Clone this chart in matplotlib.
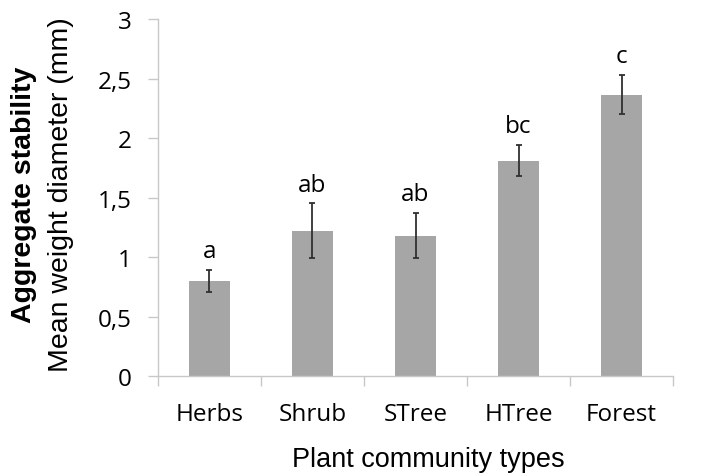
import numpy as np
import matplotlib.pyplot as plt
from matplotlib.ticker import FuncFormatter, FixedLocator

# Mean weight diameter per plant community, with standard errors and letter groups
communities = ["Herbs", "Shrub", "STree", "HTree", "Forest"]
mwd = [0.80, 1.22, 1.18, 1.81, 2.365]
mwd_err = [0.09, 0.23, 0.19, 0.13, 0.165]
groups = ["a", "ab", "ab", "bc", "c"]

tick_font = "Open Sans"
label_font = "Liberation Sans"

fig = plt.figure(figsize=(7.04, 4.77), dpi=100)
ax = fig.add_axes([0.2244, 0.2096, 0.7316, 0.7484])

x = np.arange(len(communities))
ax.bar(x, mwd, width=0.4, color="#a6a6a6", zorder=2)
ax.errorbar(x, mwd, yerr=mwd_err, fmt="none", ecolor="#303030",
            elinewidth=1.3, capsize=2.5, capthick=1.3, zorder=3)

for xi, m, e, g in zip(x, mwd, mwd_err, groups):
    ax.annotate(g, (xi, m + e), xytext=(0, 5), textcoords="offset points",
                ha="center", va="bottom", fontsize=17.5, family=tick_font)

ax.set_xlim(-0.5, len(communities) - 0.5)
ax.set_ylim(0, 3)
ax.set_yticks(np.arange(0, 3.01, 0.5))
ax.yaxis.set_major_formatter(FuncFormatter(lambda v, p: f"{v:g}".replace(".", ",")))

ax.set_xticks(x)
ax.set_xticklabels(communities)
ax.xaxis.set_minor_locator(FixedLocator(np.arange(-0.5, len(communities), 1.0)))
ax.tick_params(axis="x", which="major", length=0, pad=19)
ax.tick_params(axis="x", which="minor", length=7, color="#c8c8c8", width=1)
ax.tick_params(axis="y", length=7, color="#c8c8c8", width=1, pad=12)

for lab in ax.get_xticklabels() + ax.get_yticklabels():
    lab.set_family(tick_font)
    lab.set_fontsize(17.5)

for side in ["top", "right"]:
    ax.spines[side].set_visible(False)
for side in ["left", "bottom"]:
    ax.spines[side].set_color("#c8c8c8")
    ax.spines[side].set_linewidth(1)

fig.text(0.034, 0.591, "Aggregate stability", rotation=90, ha="center", va="center",
         fontsize=20.5, fontweight="bold", family=label_font)
fig.text(0.086, 0.591, "Mean weight diameter (mm)", rotation=90, ha="center", va="center",
         fontsize=20.5, family=label_font)
fig.text(0.608, 0.035, "Plant community types", ha="center", va="center",
         fontsize=19.5, family=label_font)

fig.savefig("out.png", dpi=100)
